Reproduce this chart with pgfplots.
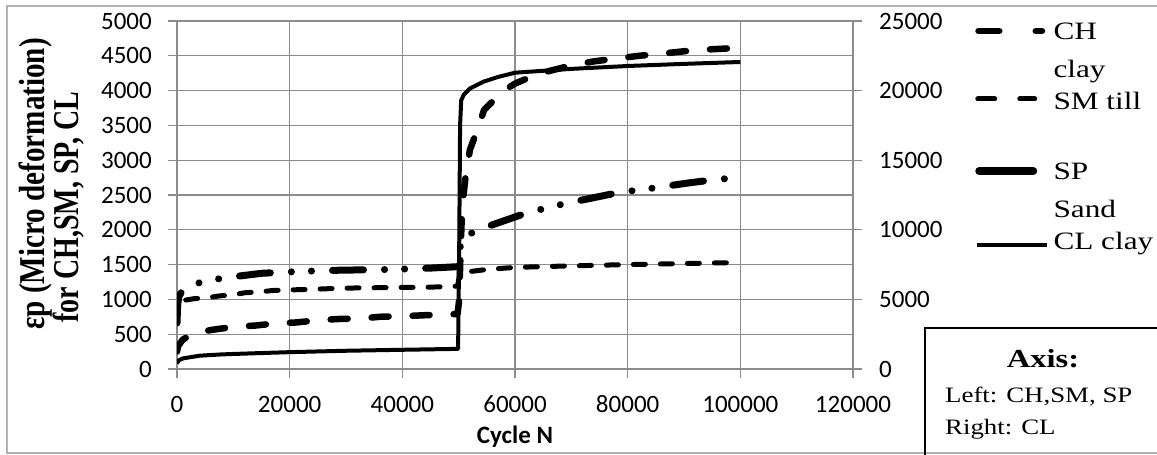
\documentclass[border=0pt]{standalone}
\usepackage{fontspec}
\setmainfont{Liberation Serif}
\newfontfamily\calibri{Carlito}
\usepackage{graphicx}
\usepackage{pgfplots}
\usepackage{pgfplotstable}
\pgfplotsset{compat=1.18}

\pgfplotstableread{
N v
0 250
200 330
1000 420
2600 500
6000 560
10000 605
14000 625
17500 655
21000 668
25000 700
28500 718
33000 728
36000 750
41000 762
45000 776
49800 790
50100 1000
50300 1600
50600 2300
51200 2750
52000 3150
53500 3480
54500 3720
56800 3910
58000 4000
60000 4100
62000 4170
64500 4240
66000 4280
68000 4320
70000 4365
72000 4390
74000 4420
76000 4440
78000 4465
80000 4480
82000 4500
86000 4530
90000 4565
94000 4590
100000 4615
}\chdata

\pgfplotstableread{
N v
0 660
200 850
500 950
1500 990
3000 1010
5500 1025
7500 1050
10000 1065
12000 1095
15000 1111
17000 1128
20000 1136
24000 1145
28000 1157
32000 1165
36000 1168
40000 1172
45000 1176
49800 1190
50100 1330
50500 1385
52000 1400
55000 1430
60000 1460
70000 1482
80000 1500
90000 1515
100000 1530
}\smdata

\pgfplotstableread{
N v
0 660
100 900
300 1040
1000 1130
2000 1185
4000 1240
8000 1305
11000 1335
15000 1375
21000 1398
24000 1408
28000 1418
31000 1422
38000 1430
41000 1438
45000 1450
49800 1470
50100 1650
50500 1880
52800 1973
55900 2069
62700 2260
65600 2310
69200 2385
72700 2440
79300 2550
82500 2572
84500 2600
90500 2670
93400 2700
96500 2725
100000 2763
}\spdata

\pgfplotstableread{
N v
0 405
300 620
1100 765
4000 955
8000 1050
13000 1120
20000 1210
30000 1310
40000 1380
48500 1437
49900 1440
50100 9000
50250 17500
50450 19300
50900 19700
52000 20150
54400 20640
57000 20980
60000 21285
70000 21560
80000 21767
90000 21920
100000 22055
}\cldata

\newcommand{\lgt}[1]{\scalebox{1.25}[1]{#1}}

\pgfplotsset{
  common/.style={
    at={(177pt,86pt)}, anchor=south west,
    width=676pt, height=348pt, scale only axis,
    xmin=0, xmax=120000,
    scaled ticks=false,
    tick align=outside, major tick length=9pt,
    tick style={black!45, line width=1.3pt},
    axis line style={black!45, line width=1.3pt},
    ticklabel style={font=\calibri\fontsize{25}{30}\selectfont},
    /pgf/number format/fixed,
    /pgf/number format/precision=0,
    /pgf/number format/assume math mode=true,
    /pgf/number format/1000 sep={},
  }
}

\begin{document}
\begin{tikzpicture}[x=1pt,y=1pt]
\path[use as bounding box] (0,0) rectangle (1157,455);
\draw[black!30, line width=1.2pt] (7,2) rectangle (1175,449);

\begin{axis}[common,
  ymin=0, ymax=5000,
  xtick={0,20000,...,120000}, ytick={0,500,...,5000},
  axis lines*=left,
  grid=major,
  major grid style={black!45, line width=1.3pt},
  yticklabel style={anchor=east, inner sep=0pt, xshift=-16pt},
  xticklabel style={anchor=base, inner sep=0pt, yshift=-35pt},
  xlabel={Cycle N},
  xlabel style={font=\calibri\bfseries\fontsize{25}{30}\selectfont, at={(axis description cs:0.5,-0.2155)}, anchor=base, inner sep=0pt},
  legend style={at={(1.18047,1.0029)}, anchor=north west, draw=none, fill=none,
    inner xsep=0pt, inner ysep=0pt, outer sep=0pt, row sep=5pt, column sep=4pt,
    font=\fontsize{25}{38}\selectfont,
    cells={anchor=base west},
    nodes={inner sep=0pt, anchor=base west, text height=20pt, text depth=45pt}},
]
\addplot[black, line width=6.5pt, line cap=round, line join=round, dash pattern=on 17pt off 24pt,
  legend image code/.code={\draw[black, solid, line width=6.5pt, line cap=round] (3.25pt,9pt) -- (24pt,9pt) (60.5pt,9pt) -- (66.75pt,9pt);}]
  table[x=N,y=v]{\chdata};
\addlegendentry{\lgt{\vtop{\hbox{CH}\hbox{clay}}}}
\addplot[black, line width=5pt, line cap=round, line join=round, dash pattern=on 12pt off 15pt,
  legend image code/.code={\draw[black, solid, line width=5pt, line cap=round] (2.5pt,11pt) -- (19.5pt,11pt) (44.5pt,11pt) -- (59.5pt,11pt);}]
  table[x=N,y=v]{\smdata};
\addlegendentry{\lgt{SM till}}
\addplot[black, line width=7pt, line cap=round, line join=round, dash pattern=on 31pt off 21pt on 0.1pt off 20pt on 0.1pt off 21pt,
  legend image code/.code={\draw[black, solid, line width=8pt, line cap=round] (4pt,9pt) -- (58pt,9pt);}]
  table[x=N,y=v]{\spdata};
\addlegendentry{\lgt{\vtop{\hbox{SP}\hbox{Sand}}}}
\addlegendimage{legend image code/.code={\draw[black, solid, line width=4.5pt] (2pt,5pt) -- (72pt,5pt);}}
\addlegendentry{\lgt{CL clay}}
\end{axis}

\begin{axis}[common,
  ymin=0, ymax=25000,
  ytick={0,5000,...,25000},
  axis y line*=right, axis x line=none,
  yticklabel style={anchor=west, inner sep=0pt, xshift=17pt},
]
\addplot[black, line width=4pt, line join=round] table[x=N,y=v]{\cldata};
\end{axis}

\node[rotate=90, anchor=base, inner sep=0pt, font=\bfseries\fontsize{28}{32}\selectfont] at (44,271) {\scalebox{1.04}[1.3]{εp (Micro deformation)}};
\node[rotate=90, anchor=base, inner sep=0pt, font=\bfseries\fontsize{28}{32}\selectfont] at (78,248) {\scalebox{1}[1.3]{for CH,SM, SP, CL}};

\draw[black, line width=1.3pt] (925,-10) rectangle (1175,127);
\node[anchor=base, inner sep=0pt, font=\bfseries\fontsize{26}{30}\selectfont] at (1043,87) {\scalebox{1.25}[1]{Axis:}};
\node[anchor=base west, inner sep=0pt, font=\fontsize{22}{26}\selectfont] at (945,52) {\scalebox{1.22}[1]{Left: CH,SM, SP}};
\node[anchor=base west, inner sep=0pt, font=\fontsize{22}{26}\selectfont] at (945,20) {\scalebox{1.22}[1]{Right: CL}};
\end{tikzpicture}
\end{document}
